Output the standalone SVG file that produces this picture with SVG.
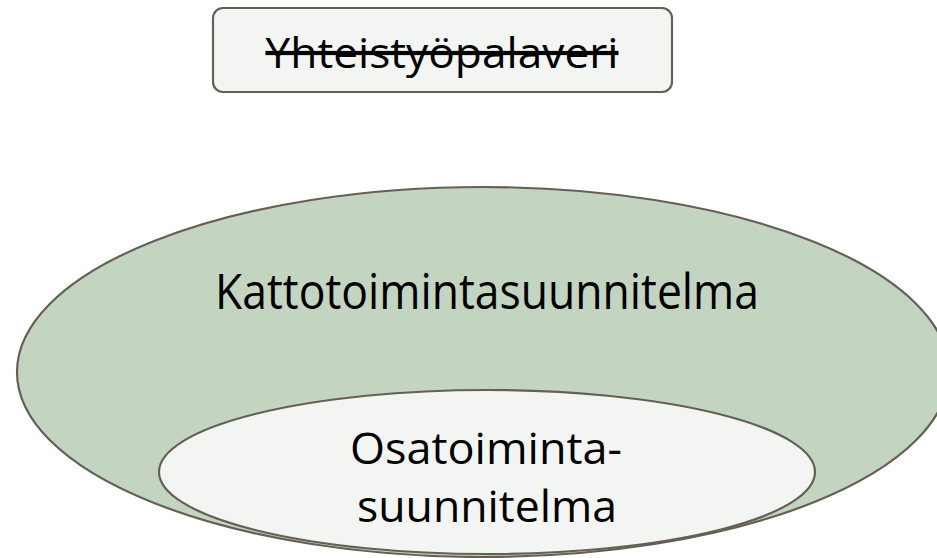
<svg xmlns="http://www.w3.org/2000/svg" width="937" height="558" viewBox="0 0 937 558">
  <style>
    .shape { stroke: #675f56; stroke-width: 2.2; }
    .label { font-family: "Open Sans", "Noto Sans", "DejaVu Sans", sans-serif; fill: #000000; text-anchor: middle; }
  </style>
  <rect width="937" height="558" fill="#ffffff"/>
  <g id="node-yhteistyopalaveri">
    <rect class="shape" x="213" y="8" width="459" height="84" rx="10" ry="10" fill="#f3f5f2"/>
    <text class="label" x="442" y="68" font-size="42" textLength="353" lengthAdjust="spacingAndGlyphs" text-decoration="line-through">Yhteistyöpalaveri</text>
  </g>
  <g id="node-kattotoimintasuunnitelma">
    <ellipse class="shape" cx="483" cy="372" rx="466" ry="185" fill="#c3d5c1"/>
    <text class="label" x="487" y="309" font-size="50" textLength="544" lengthAdjust="spacingAndGlyphs">Kattotoimintasuunnitelma</text>
  </g>
  <g id="node-osatoimintasuunnitelma">
    <ellipse class="shape" cx="487" cy="472" rx="328" ry="82" fill="#f3f5f2"/>
    <text class="label" x="486" y="464" font-size="44" textLength="272" lengthAdjust="spacingAndGlyphs">Osatoiminta-</text>
    <text class="label" x="487" y="522" font-size="44" textLength="260" lengthAdjust="spacingAndGlyphs">suunnitelma</text>
  </g>
  <g id="connectors"/>
</svg>
